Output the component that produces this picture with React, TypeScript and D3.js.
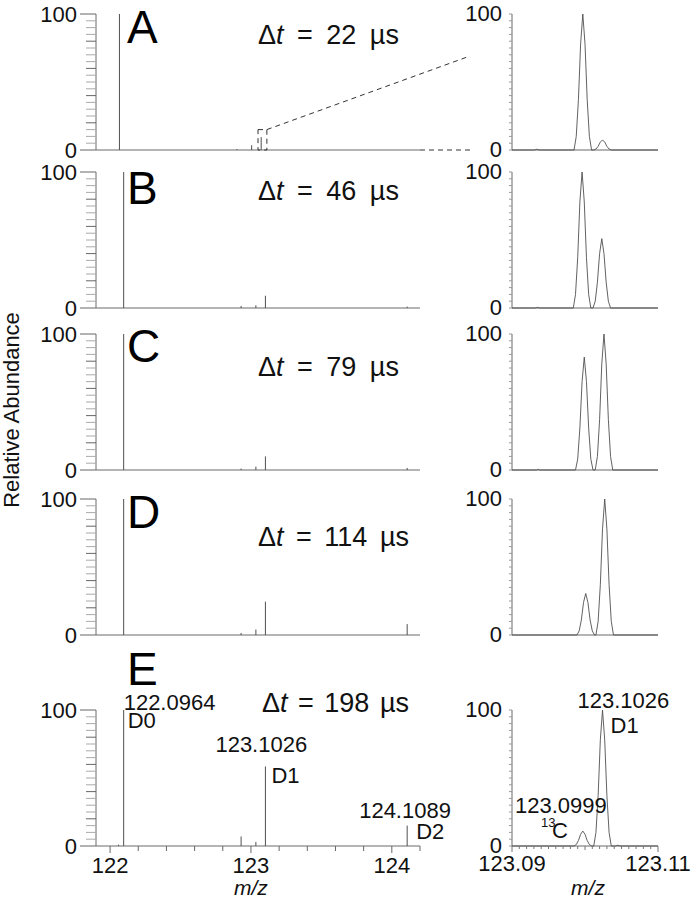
import React from "react";
import * as d3 from "d3";

// ---------- data ----------
const panelLetters = ["A", "B", "C", "D", "E"];
const delays = ["22", "46", "79", "114", "198"];

// centroid (stick) spectrum, m/z and relative abundance per panel
const stickMz = [122.06, 122.0964, 122.93, 123.035, 123.1026, 124.1089];
const stickA = [0, 100, 0.7, 3.5, 9.5, 0];
const stickB = [0, 100, 1.5, 2, 9, 1];
const stickC = [0, 100, 1, 2.5, 10, 1.5];
const stickD = [0, 100, 1.5, 4, 24.5, 8];
const stickE = [1, 100, 7, 3, 58.5, 15];
const sticks = [stickA, stickB, stickC, stickD, stickE];

// profile (zoomed) spectrum around m/z 123.1
const profileA: [number, number][] = [
  [123.09, 0], [123.0931, 0], [123.0934, 0.6], [123.0937, 0],
  [123.0985, 0], [123.0988, 10], [123.0991, 37], [123.0994, 78], [123.0997, 100], [123.1, 78], [123.1003, 37], [123.1006, 10], [123.1009, 0],
  [123.1012, 0], [123.1015, 0.7], [123.1018, 2.7], [123.1021, 5.8], [123.1024, 7.4], [123.1027, 5.8], [123.103, 2.7], [123.1033, 0.7], [123.1036, 0],
  [123.11, 0],
];
const profileB: [number, number][] = [
  [123.09, 0], [123.0932, 0], [123.0935, 0.5], [123.0938, 0],
  [123.0984, 0], [123.0987, 10], [123.099, 37], [123.0993, 78], [123.0996, 100], [123.0999, 78], [123.1002, 37], [123.1005, 10], [123.1008, 0],
  [123.1011, 0], [123.1014, 5], [123.1017, 19], [123.102, 40], [123.1023, 51], [123.1026, 40], [123.1029, 19], [123.1032, 5], [123.1035, 0],
  [123.11, 0],
];
const profileC: [number, number][] = [
  [123.09, 0], [123.0934, 0], [123.0936, 0.5], [123.0938, 0],
  [123.0987, 0], [123.099, 8], [123.0993, 31], [123.0996, 65], [123.0999, 83], [123.1002, 65], [123.1005, 31], [123.1008, 8], [123.1011, 0],
  [123.1014, 0], [123.1017, 10], [123.102, 37], [123.1023, 78], [123.1026, 100], [123.1029, 78], [123.1032, 37], [123.1035, 10], [123.1038, 0],
  [123.11, 0],
];
const profileD: [number, number][] = [
  [123.09, 0],
  [123.0989, 0], [123.0992, 3], [123.0995, 11], [123.0998, 24], [123.1001, 30.5], [123.1004, 24], [123.1007, 11], [123.101, 3], [123.1013, 0],
  [123.1015, 0], [123.1018, 10], [123.1021, 37], [123.1024, 78], [123.1027, 100], [123.103, 78], [123.1033, 37], [123.1036, 10], [123.1039, 0],
  [123.11, 0],
];
const profileE: [number, number][] = [
  [123.09, 0],
  [123.0985, 0], [123.0988, 1.1], [123.0991, 4], [123.0994, 8.6], [123.0997, 11], [123.1, 8.6], [123.1003, 4], [123.1006, 1.1], [123.1009, 0],
  [123.1012, 0], [123.1015, 10], [123.1018, 37], [123.1021, 78], [123.1024, 100], [123.1027, 78], [123.103, 37], [123.1033, 10], [123.1036, 0],
  [123.1042, 0], [123.1045, 0.6], [123.1048, 0],
  [123.11, 0],
];
const profiles = [profileA, profileB, profileC, profileD, profileE];

const yTickValues = d3.range(0, 101, 5);
const yTickLabels = [0, 100];
const leftXTickLabels = [122, 123, 124];
const rightXTickLabels = ["123.09", "123.11"];
const rightXDomain = [123.09, 123.11];

// annotations (panel E)
const leftAnnotMz = [122.0964, 123.1026, 124.1089];
const leftAnnotHeight = [100, 58.5, 15];
const leftAnnotText = ["122.0964", "123.1026", "124.1089"];
const leftAnnotTag = ["D0", "D1", "D2"];
const rightAnnotMz = [123.1024, 123.0997];
const rightAnnotHeight = [100, 11];
const rightAnnotText = ["123.1026", "123.0999"];

// ---------- layout ----------
const W = 699;
const H = 900;
const FONT = "'Liberation Sans', Arial, Helvetica, sans-serif";
const panelTop = [14, 172, 334, 499, 710];
const panelH = 136;
const L0 = 96, L1 = 420;
const R0 = 512, R1 = 658;
const leftDomains = [
  [121.93, 124.23],
  [121.9, 124.2],
  [121.9, 124.2],
  [121.9, 124.2],
  [121.9, 124.2],
];
const letterDy = [29, 32, 28, 29, -25];
const dtX = [258, 258, 258, 258, 262];
const dtDy = [30, 28, 42, 47, 2];
const dtWordSpacing = [6, 6, 6, 5, 3];

const axisColor = "#6a6a6a";
const peakColor = "#505050";

function Panel({ i }: { i: number }) {
  const top = panelTop[i];
  const y = d3.scaleLinear().domain([0, 100]).range([top + panelH, top]);
  const xl = d3.scaleLinear().domain(leftDomains[i]).range([L0, L1]);
  const xr = d3.scaleLinear().domain(rightXDomain).range([R0, R1]);
  const line = d3
    .line<[number, number]>()
    .x((d) => xr(d[0]))
    .y((d) => y(d[1]));
  const base = y(0);
  const isLast = i === 4;
  return (
    <g>
      {/* left y axis */}
      <line x1={L0} x2={L0} y1={y(100)} y2={base} stroke={axisColor} strokeWidth={1} />
      {yTickValues.map((v) => (
        <line
          key={"lt" + v}
          x1={v % 100 === 0 ? L0 - 16 : L0 - 10}
          x2={L0}
          y1={y(v)}
          y2={y(v)}
          stroke={v % 20 === 0 ? "#666" : "#aaa"}
          strokeWidth={1}
        />
      ))}
      {yTickLabels.map((v) => (
        <text key={"ll" + v} x={77} y={y(v)} dy="0.36em" textAnchor="end" fontSize={22} fontFamily={FONT} fill="#111">
          {v}
        </text>
      ))}
      {/* left x axis */}
      <line x1={L0} x2={L1} y1={base} y2={base} stroke={axisColor} strokeWidth={1} />
      {/* sticks */}
      {sticks[i].map((v, k) =>
        v > 0 ? (
          <line
            key={"s" + k}
            x1={xl(stickMz[k])}
            x2={xl(stickMz[k])}
            y1={base}
            y2={y(v)}
            stroke={peakColor}
            strokeWidth={1}
          />
        ) : null
      )}
      {/* right y axis */}
      <line x1={R0} x2={R0} y1={y(100)} y2={base} stroke={axisColor} strokeWidth={1} />
      {yTickValues.map((v) => (
        <line key={"rt" + v} x1={R0 - 3} x2={R0} y1={y(v)} y2={y(v)} stroke="#999" strokeWidth={1} />
      ))}
      {yTickLabels.map((v) => (
        <text key={"rl" + v} x={502} y={y(v) - 1} dy="0.36em" textAnchor="end" fontSize={22} fontFamily={FONT} fill="#111">
          {v}
        </text>
      ))}
      <line x1={R0} x2={R1} y1={base} y2={base} stroke={axisColor} strokeWidth={1} />
      <path d={line(profiles[i]) || ""} fill="none" stroke={peakColor} strokeWidth={0.9} />
      {/* panel letter */}
      <text x={127} y={top + letterDy[i]} fontSize={46} fontFamily={FONT} fill="#000">
        {panelLetters[i]}
      </text>
      {/* delay label */}
      <text x={dtX[i]} y={top + dtDy[i]} fontSize={27} fontFamily={FONT} fill="#111" wordSpacing={dtWordSpacing[i]}>
        <tspan>Δ</tspan>
        <tspan fontStyle="italic">t</tspan>
        <tspan>{" = " + delays[i] + " µs"}</tspan>
      </text>
      {isLast && <Annotations y={y} xl={xl} xr={xr} base={base} />}
    </g>
  );
}

function Annotations({ y, xl, xr, base }: any) {
  const leftTicks = d3.range(122, 124.21, 0.2).map((v) => +v.toFixed(1));
  const rightTicks = d3.range(0, 21).map((k) => 123.09 + k * 0.001);
  const labelDx = [0, -50, -48];
  const labelDy = [0, -14, -8];
  const tagDx = [4, 6, 9];
  const tagDy = [18, 17, 13];
  return (
    <g fontFamily={FONT} fill="#111">
      {leftTicks.map((v) => (
        <line
          key={"xt" + v}
          x1={xl(v)}
          x2={xl(v)}
          y1={base}
          y2={base + (Math.abs(v - Math.round(v)) < 1e-6 ? 7 : 5)}
          stroke="#666"
          strokeWidth={1}
        />
      ))}
      {leftXTickLabels.map((v) => (
        <text key={"xl" + v} x={xl(v)} y={873} textAnchor="middle" fontSize={22}>
          {v}
        </text>
      ))}
      <text x={xl(123)} y={895} textAnchor="middle" fontSize={21} fontStyle="italic">
        m/z
      </text>
      {leftAnnotMz.map((m, k) => (
        <g key={"la" + k}>
          <text x={xl(m) + labelDx[k]} y={y(leftAnnotHeight[k]) + labelDy[k]} fontSize={22}>
            {leftAnnotText[k]}
          </text>
          <text x={xl(m) + tagDx[k]} y={y(leftAnnotHeight[k]) + tagDy[k]} fontSize={22}>
            {leftAnnotTag[k]}
          </text>
        </g>
      ))}
      {rightTicks.map((v, k) => (
        <line
          key={"rxt" + k}
          x1={xr(v)}
          x2={xr(v)}
          y1={base}
          y2={base + (k % 20 === 0 ? 6 : k % 10 === 0 ? 4 : 3)}
          stroke="#777"
          strokeWidth={1}
        />
      ))}
      {rightXTickLabels.map((v) => (
        <text key={"rxl" + v} x={xr(+v)} y={871} textAnchor="middle" fontSize={22}>
          {v}
        </text>
      ))}
      <text x={588} y={895} textAnchor="middle" fontSize={21} fontStyle="italic">
        m/z
      </text>
      <text x={xr(rightAnnotMz[0]) - 25} y={y(rightAnnotHeight[0]) - 2} fontSize={22}>
        {rightAnnotText[0]}
      </text>
      <text x={xr(rightAnnotMz[0]) + 8} y={y(rightAnnotHeight[0]) + 23} fontSize={22}>
        D1
      </text>
      <text x={515} y={y(rightAnnotHeight[1]) - 18} fontSize={22}>
        {rightAnnotText[1]}
      </text>
      <text x={541} y={y(rightAnnotHeight[1]) - 4} fontSize={13}>
        13
      </text>
      <text x={552} y={y(rightAnnotHeight[1]) + 7} fontSize={22}>
        C
      </text>
    </g>
  );
}

function ZoomGuide() {
  const top = panelTop[0];
  const y = d3.scaleLinear().domain([0, 100]).range([top + panelH, top]);
  const xl = d3.scaleLinear().domain(leftDomains[0]).range([L0, L1]);
  const bx0 = xl(123.08);
  const bx1 = xl(123.143);
  const by = y(15);
  const base = y(0);
  return (
    <g fill="none" stroke="#333" strokeWidth={1} strokeDasharray="5,4">
      <rect x={bx0} y={by} width={bx1 - bx0} height={base - by} />
      <line x1={bx1} y1={by} x2={470} y2={56} />
      <line x1={L1} y1={base} x2={470} y2={base} />
    </g>
  );
}

export default function App() {
  return (
    <svg
      width={W}
      height={H}
      viewBox={`0 0 ${W} ${H}`}
      style={{ position: "absolute", left: 0, top: 0, background: "#fff" }}
    >
      <rect x={0} y={0} width={W} height={H} fill="#fff" />
      {panelLetters.map((_, i) => (
        <Panel key={i} i={i} />
      ))}
      <ZoomGuide />
      <text
        transform="translate(19,410) rotate(-90)"
        textAnchor="middle"
        fontSize={22}
        fontFamily={FONT}
        fill="#111"
      >
        Relative Abundance
      </text>
    </svg>
  );
}
